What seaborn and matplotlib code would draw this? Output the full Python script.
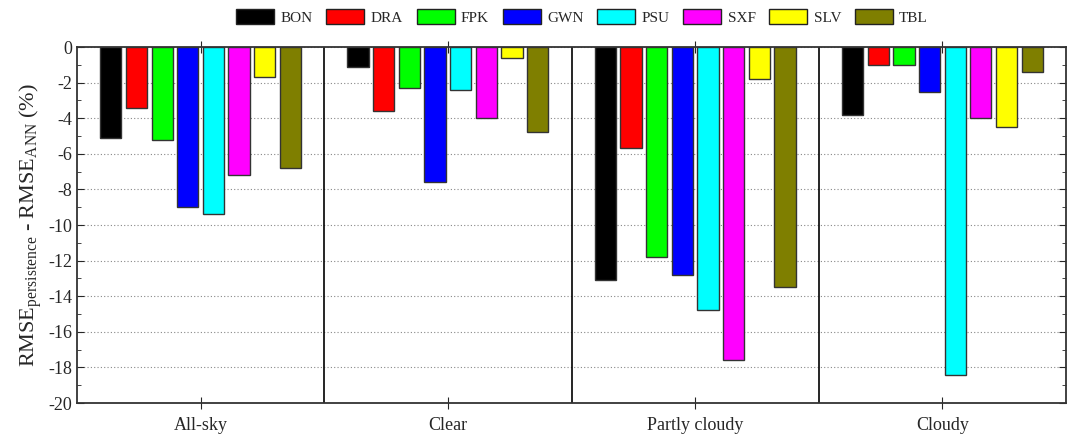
import matplotlib
matplotlib.use("Agg")
import matplotlib.pyplot as plt
import seaborn as sns
import pandas as pd
from matplotlib.ticker import MultipleLocator
from matplotlib.patches import Patch

conditions = ["All-sky", "Clear", "Partly cloudy", "Cloudy"]
stations = ["BON", "DRA", "FPK", "GWN", "PSU", "SXF", "SLV", "TBL"]
BON = [-5.1, -1.1, -13.1, -3.8]
DRA = [-3.4, -3.6, -5.7, -1.0]
FPK = [-5.2, -2.3, -11.8, -1.0]
GWN = [-9.0, -7.6, -12.8, -2.5]
PSU = [-9.4, -2.4, -14.8, -18.4]
SXF = [-7.2, -4.0, -17.6, -4.0]
SLV = [-1.7, -0.6, -1.8, -4.5]
TBL = [-6.8, -4.8, -13.5, -1.4]
colors = ["#000000", "#FF0000", "#00FF00", "#0000FF", "#00FFFF", "#FF00FF", "#FFFF00", "#7F7F00"]

series = [BON, DRA, FPK, GWN, PSU, SXF, SLV, TBL]
rows = []
for st, vals in zip(stations, series):
    for c, v in zip(conditions, vals):
        rows.append({"cond": c, "station": st, "val": v})
df = pd.DataFrame(rows)

sns.set_style("ticks")
plt.rcParams["font.family"] = ["Liberation Serif", "DejaVu Serif"]
plt.rcParams["mathtext.fontset"] = "custom"
plt.rcParams["mathtext.rm"] = "Liberation Serif"
plt.rcParams["mathtext.it"] = "Liberation Serif:italic"

fig = plt.figure(figsize=(10.69, 4.41), dpi=100)
ax = fig.add_axes([77 / 1069, 38 / 441, (1066 - 77) / 1069, (403 - 47) / 441])

sns.barplot(data=df, x="cond", y="val", hue="station", order=conditions,
            hue_order=stations, palette=colors, saturation=1, width=0.83, gap=0.17,
            edgecolor="#333333", linewidth=1.0, ax=ax, legend=False)

ax.set_ylim(-20, 0)
ax.set_xlim(-0.5, 3.5)
ax.set_yticks(range(-20, 1, 2))
ax.set_yticklabels([str(v) for v in range(-20, 1, 2)])
ax.yaxis.set_minor_locator(MultipleLocator(1))
ax.tick_params(axis="y", which="both", direction="in", right=True, labelsize=13)
ax.tick_params(axis="y", which="major", length=5)
ax.tick_params(axis="y", which="minor", length=3)
ax.tick_params(axis="x", which="major", direction="inout", top=True, length=8, labelsize=13, pad=6)
ax.yaxis.grid(True, linestyle=(0, (1, 2)), color="#888888", linewidth=0.8)
ax.set_axisbelow(True)
for v in [0.5, 1.5, 2.5]:
    ax.axvline(v, color="black", linewidth=1.2)
for s in ax.spines.values():
    s.set_visible(True)
    s.set_linewidth(1.3)
    s.set_color("#333333")

ax.set_xlabel("")
ax.set_ylabel(r"RMSE$_{\rm persistence}$ - RMSE$_{\rm ANN}$ (%)", fontsize=16, labelpad=3)

handles = [Patch(facecolor=c, edgecolor="#222222", linewidth=1.0, label=s) for s, c in zip(stations, colors)]
fig.legend(handles=handles, loc="center", bbox_to_anchor=(582 / 1069, 1 - 17 / 441), ncol=8,
           frameon=False, fontsize=11, handlelength=2.5, handleheight=1.05, columnspacing=0.9,
           handletextpad=0.4)

fig.savefig("out.png", dpi=100)
